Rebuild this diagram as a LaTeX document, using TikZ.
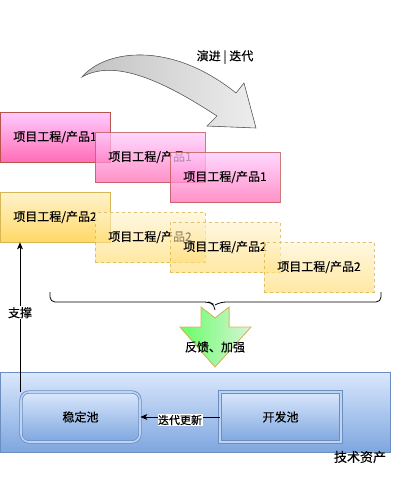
\documentclass[tikz,border=0pt]{standalone}
\usepackage{fontspec}
\setmainfont{Noto Sans CJK SC}[FakeBold=0.3]
\usetikzlibrary{arrows.meta, positioning}
\definecolor{pinkTop}{HTML}{FFCCFF}
\definecolor{pinkBot}{HTML}{FF6DB6}
\definecolor{pinkLine}{HTML}{B85450}
\definecolor{yellowTop}{HTML}{FFF2CC}
\definecolor{yellowBot}{HTML}{FFD966}
\definecolor{yellowLine}{HTML}{D6B656}
\definecolor{blueTop}{HTML}{DAE8FC}
\definecolor{blueBot}{HTML}{7EA6E0}
\definecolor{blueLine}{HTML}{6C8EBF}
\definecolor{greenL}{HTML}{66FF66}
\definecolor{greenR}{HTML}{D8F3D8}

\begin{document}
\begin{tikzpicture}[x=1pt, y=-1pt, >={Stealth[length=7pt,width=6pt,inset=2pt]}, font=\fontsize{12pt}{14pt}\selectfont]
    \tikzstyle{box}=[rectangle, minimum width=110pt, minimum height=50pt, inner sep=0pt, line width=0.8pt, text opacity=1]
    \tikzstyle{prod one}=[box, draw=pinkLine, top color=pinkTop, bottom color=pinkBot]
    \tikzstyle{prod two}=[box, draw=yellowLine, top color=yellowTop, bottom color=yellowBot]
    \tikzstyle{pool}=[rectangle, minimum height=50pt, draw=blueLine, line width=0.8pt, double=blueTop!70!blueBot, double distance=1.6pt, top color=blueTop, bottom color=blueBot]
    \tikzstyle{assets}=[rectangle, minimum width=390pt, minimum height=80pt, draw=blueLine, line width=0.8pt, top color=blueTop, bottom color=blueBot]

    \useasboundingbox (0,0) rectangle (411,483);

    % evolution arrow
    \filldraw[draw=black!60, line width=0.6pt, left color=black!24, right color=black!7]
        (82,77) .. controls (105,50) and (170,40) .. (236,93) -- (244,83) -- (256,128)
        -- (207,126) -- (217,116) .. controls (165,82) and (115,58) .. (82,77) -- cycle;
    \node (evo) at (225,57) {演进 | 迭代};

	\foreach \cx/\cy/\op [count=\i] in {55/137/1, 150/157/.75, 225/177/.75}{
		\node[prod one, fill opacity=\op, draw opacity=\op] (P-\i) at (\cx,\cy) {项目工程/产品1};
	}

	\node[prod two] (Y-1) at (55,217) {项目工程/产品2};
	\foreach \cx/\cy [count=\i from 2] in {150/237, 225/247, 319/267}{
		\node[prod two, dashed, fill opacity=.6, draw opacity=.8] (Y-\i) at (\cx,\cy) {项目工程/产品2};
	}

    % brace
    \draw[line width=0.8pt, rounded corners=5pt] (50,292) |- (209,302) -- (215,305) -- (215,310);
    \draw[line width=0.8pt, rounded corners=5pt] (381,292) |- (221,302) -- (215,305);

    \filldraw[draw=yellowLine, line width=0.8pt, left color=greenL, right color=greenR]
        (201,307) -- (215,318) -- (229,307) -- (229,327) -- (251,327) -- (215,367)
        -- (180,327) -- (201,327) -- cycle;
    \node (feedback) at (215,347) {反馈、加强};

	\node[assets] (tech) at (195,412) {};
	\node[font=\fontsize{13pt}{15pt}\selectfont] (techname) at (360,457) {技术资产};

	\node[pool, rounded corners=8pt, minimum width=119pt] (stable) at (80.5,417) {稳定池};
	\node[pool, minimum width=121pt] (dev) at (280.5,417) {开发池};

	\path[->, draw, line width=0.8pt] (dev) -- node[fill=white, inner sep=0.5pt, yshift=-3pt, font=\fontsize{11pt}{13pt}\selectfont] (upd) {迭代更新} (stable);

	\coordinate (base) at (20,392);
	\path[->, draw, line width=0.8pt] (base) -- node[fill=white, inner sep=1pt, pos=.53] (sup) {支撑} (base |- Y-1.south);
\end{tikzpicture}
\end{document}
